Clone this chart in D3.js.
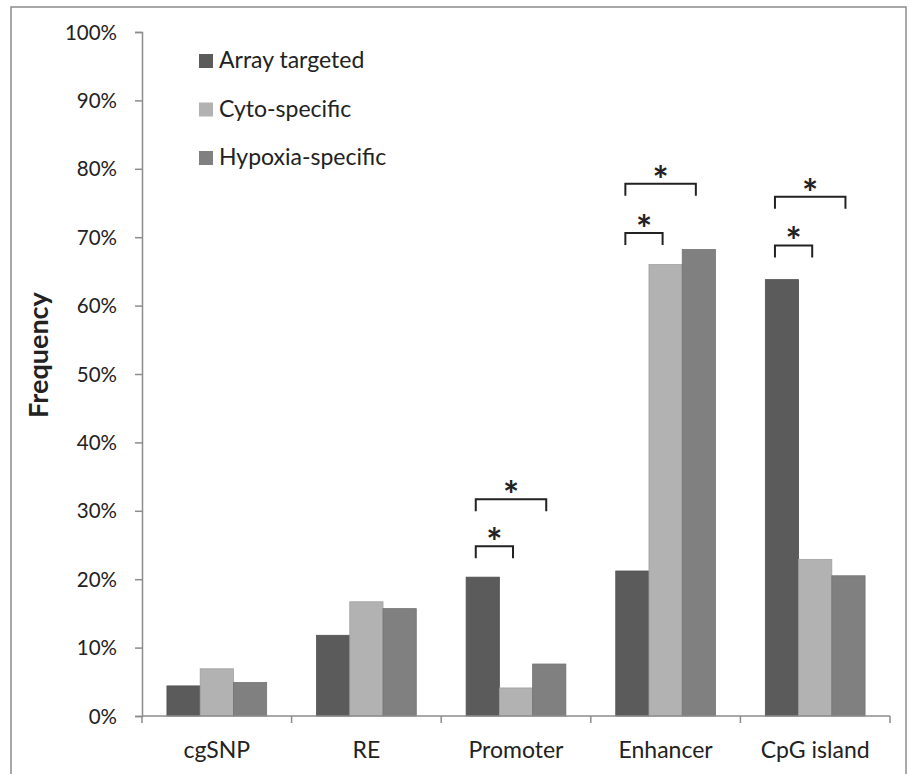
<!DOCTYPE html>
<html>
<head>
<meta charset="utf-8">
<script src="https://cdn.jsdelivr.net/npm/d3@7"></script>
<style>
  body { margin: 0; background: #fff; }
  text { font-family: Lato, "Open Sans", sans-serif; fill: #222; }
</style>
</head>
<body>
<svg width="909" height="774"></svg>
<script>
// data
const categories = ['cgSNP', 'RE', 'Promoter', 'Enhancer', 'CpG island']
const series = ['Array targeted', 'Cyto-specific', 'Hypoxia-specific']
const arrayTargeted = [4.4, 11.8, 20.3, 21.2, 63.8]
const cytoSpecific = [6.9, 16.7, 4.1, 66.0, 22.9]
const hypoxiaSpecific = [4.9, 15.7, 7.6, 68.2, 20.5]
const yTicks = [0, 10, 20, 30, 40, 50, 60, 70, 80, 90, 100]
// significance brackets: category, from series, to series, bracket level (%)
const brackets = [
  { cat: 'Promoter', from: 0, to: 1, level: 24.8 },
  { cat: 'Promoter', from: 0, to: 2, level: 31.7 },
  { cat: 'Enhancer', from: 0, to: 1, level: 70.6 },
  { cat: 'Enhancer', from: 0, to: 2, level: 77.8 },
  { cat: 'CpG island', from: 0, to: 1, level: 68.8 },
  { cat: 'CpG island', from: 0, to: 2, level: 75.9 }
]

const colors = ['#5b5b5b', '#b2b2b2', '#808080']
const values = [arrayTargeted, cytoSpecific, hypoxiaSpecific]

const svg = d3.select('svg')
const plotLeft = 142, plotRight = 890, plotTop = 32, plotBottom = 716

// outer frame (bottom edge is cropped off in the original)
svg.append('rect')
    .attr('x', 11).attr('y', 7)
    .attr('width', 895).attr('height', 800)
    .attr('fill', 'none')
    .attr('stroke', '#8c8c8c')
    .attr('stroke-width', 1.5)

const x0 = d3.scaleBand().domain(categories).range([plotLeft, plotRight])
const x1 = d3.scaleBand().domain(d3.range(series.length))
    .range([0, x0.bandwidth()]).paddingOuter(0.75)
const y = d3.scaleLinear().domain([0, 100]).range([plotBottom, plotTop])

// y axis
const yAxis = svg.append('g')
    .attr('transform', `translate(${plotLeft},0)`)
    .call(d3.axisLeft(y).tickValues(yTicks).tickSize(7).tickPadding(18)
        .tickFormat(d => d + '%'))
yAxis.select('.domain').attr('stroke', '#8c8c8c').attr('stroke-width', 1.5)
yAxis.selectAll('.tick line').attr('stroke', '#8c8c8c').attr('stroke-width', 1.5)
yAxis.selectAll('.tick text')
    .style('font-size', '20.5px')
    .style('font-family', 'Lato, sans-serif')
    .attr('fill', '#333')
    .attr('dy', '0.35em')

svg.append('text')
    .attr('transform', 'translate(48,355) rotate(-90)')
    .attr('text-anchor', 'middle')
    .style('font-size', '27px')
    .style('font-weight', 'bold')
    .attr('fill', '#111')
    .text('Frequency')

// bars
const groups = svg.append('g').selectAll('g')
    .data(categories)
    .join('g')
    .attr('transform', d => `translate(${x0(d)},0)`)

groups.selectAll('rect')
    .data((c, i) => values.map((v, s) => ({ s, v: v[i] })))
    .join('rect')
    .attr('x', d => x1(d.s))
    .attr('width', x1.bandwidth())
    .attr('y', d => y(d.v))
    .attr('height', d => y(0) - y(d.v))
    .attr('fill', d => colors[d.s])
    .attr('stroke', d => d3.color(colors[d.s]).darker(0.3))
    .attr('stroke-width', 0.8)

// x axis
svg.append('line')
    .attr('x1', plotLeft).attr('x2', plotRight)
    .attr('y1', plotBottom).attr('y2', plotBottom)
    .attr('stroke', '#8c8c8c').attr('stroke-width', 1.5)
svg.append('g').selectAll('line')
    .data(categories.map(c => x0(c)).concat([plotRight]))
    .join('line')
    .attr('x1', d => d).attr('x2', d => d)
    .attr('y1', plotBottom).attr('y2', plotBottom + 7)
    .attr('stroke', '#8c8c8c').attr('stroke-width', 1.5)
svg.append('g').selectAll('text')
    .data(categories)
    .join('text')
    .attr('x', d => x0(d) + x0.bandwidth() / 2)
    .attr('y', 758)
    .attr('text-anchor', 'middle')
    .style('font-size', '23px')
    .attr('fill', '#222')
    .text(d => d)

// legend
const legend = svg.append('g').attr('transform', 'translate(199,54)')
const lg = legend.selectAll('g')
    .data(series)
    .join('g')
    .attr('transform', (d, i) => `translate(0,${i * 48.5})`)
lg.append('rect')
    .attr('width', 14).attr('height', 14)
    .attr('fill', (d, i) => colors[i])
lg.append('text')
    .attr('x', 20).attr('y', 14)
    .style('font-size', '23px')
    .attr('fill', '#222')
    .text(d => d)

// significance brackets
const bx = (cat, s) => x0(cat) + x1(s) + x1.bandwidth() / 2
const bg = svg.append('g').selectAll('g')
    .data(brackets)
    .join('g')
bg.append('path')
    .attr('d', d => {
      const xa = bx(d.cat, d.from) - 7
      const xb = bx(d.cat, d.to) - 3
      const yy = y(d.level)
      return `M${xa},${yy + 12}V${yy}H${xb}V${yy + 12}`
    })
    .attr('fill', 'none')
    .attr('stroke', '#222')
    .attr('stroke-width', 2)
bg.append('text')
    .attr('x', d => (bx(d.cat, d.from) - 7 + bx(d.cat, d.to) - 3) / 2)
    .attr('y', d => y(d.level) + 10)
    .attr('text-anchor', 'middle')
    .style('font-size', '38px')
    .style('font-weight', 'bold')
    .attr('fill', '#111')
    .text('*')
</script>
</body>
</html>
